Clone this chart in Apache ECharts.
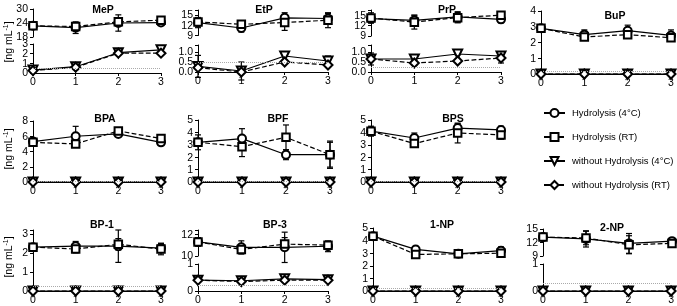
<!DOCTYPE html>
<html>
<head>
<meta charset="utf-8">
<script src="https://cdn.jsdelivr.net/npm/echarts@6/dist/echarts.min.js"></script>
<style>
  html, body { margin: 0; padding: 0; background: #fff; }
  #chart { width: 677px; height: 306px; }
</style>
</head>
<body>
<div id="chart"></div>
<script>
const days = [0, 1, 2, 3];
const seriesNames = ['Hydrolysis (4°C)', 'Hydrolysis (RT)', 'without Hydrolysis (4°C)', 'without Hydrolysis (RT)'];
const zero = [0, 0, 0, 0];

// means, rows: hyd 4°C, hyd RT, w/o 4°C, w/o RT
const mepMean = [[22.8, 22.0, 24.0, 24.2], [22.8, 22.5, 24.5, 25.2], [0.3, 0.65, 2.1, 2.4], [0.25, 0.6, 2.05, 2.05]];
const mepErr = [[1.5, 2.5, 3.5, 1.0], [1.0, 1.5, 1.0, 0.5], [0.2, 0.3, 0.1, 0.2], [0.1, 0.2, 0.1, 0.1]];
const etpMean = [[12.8, 11.2, 14.2, 14.0], [13.0, 12.3, 12.8, 13.5], [0.28, 0.05, 0.8, 0.55], [0.22, 0.0, 0.5, 0.35]];
const etpErr = [[1.5, 1.2, 1.5, 1.5], [1.0, 0.5, 2.3, 2.2], [0.55, 0.45, 0.2, 0.25], [0.05, 0.0, 0.05, 0.05]];
const prpMean = [[14.0, 13.5, 14.5, 13.8], [14.2, 13.0, 14.3, 15.0], [0.65, 0.65, 0.9, 0.8], [0.65, 0.45, 0.55, 0.7]];
const prpErr = [[1.0, 1.5, 1.5, 1.0], [1.5, 2.0, 1.5, 0.5], [0.3, 0.1, 0.05, 0.15], [0.05, 0.1, 0.05, 0.25]];
const bupMean = [[2.9, 2.5, 2.75, 2.45], [2.9, 2.35, 2.5, 2.3], zero, zero];
const bupErr = [[0.2, 0.3, 0.35, 0.35], [0.2, 0.15, 0.1, 0.15], zero, zero];
const bpaMean = [[5.3, 6.0, 6.3, 5.2], [5.2, 5.0, 6.7, 5.7], zero, zero];
const bpaErr = [[0.3, 1.3, 0.3, 0.2], [0.3, 0.3, 0.3, 0.2], zero, zero];
const bpfMean = [[3.2, 3.5, 2.2, 2.2], [3.2, 2.85, 3.6, 2.2], zero, zero];
const bpfErr = [[0.6, 0.8, 0.4, 1.0], [0.3, 0.8, 1.0, 1.1], zero, zero];
const bpsMean = [[4.1, 3.55, 4.35, 4.2], [4.1, 3.1, 3.95, 3.8], zero, zero];
const bpsErr = [[0.4, 0.4, 0.35, 0.3], [0.3, 0.3, 0.8, 0.35], zero, zero];
const bp1Mean = [[2.3, 2.35, 2.35, 2.25], [2.3, 2.2, 2.45, 2.2], zero, zero];
const bp1Err = [[0.1, 0.25, 0.85, 0.25], [0.1, 0.2, 0.3, 0.3], zero, zero];
const bp3Mean = [[11.3, 10.8, 10.8, 10.9], [11.3, 10.6, 11.1, 11.0], [0.4, 0.38, 0.45, 0.42], [0.4, 0.35, 0.4, 0.4]];
const bp3Err = [[0.4, 0.6, 1.4, 0.5], [0.3, 0.4, 0.6, 0.3], [0.03, 0.03, 0.05, 0.03], [0.03, 0.03, 0.03, 0.03]];
const np1Mean = [[4.35, 3.3, 2.95, 3.2], [4.35, 2.9, 2.95, 3.0], zero, zero];
const np1Err = [[0.1, 0.25, 0.3, 0.3], [0.1, 0.1, 0.2, 0.15], zero, zero];
const np2Mean = [[13.2, 12.8, 11.8, 12.3], [13.2, 13.0, 11.5, 11.8], zero, zero];
const np2Err = [[0.4, 1.8, 2.2, 0.3], [0.4, 1.5, 2.0, 0.4], zero, zero];

// limit lines
const loqs = { MeP: 0.5, EtP: 0.5, PrP: 0.25, BuP: 0.2, BPA: 0.1, BPF: 0.06, BPS: 0.06, 'BP-1': 0.25, 'BP-3': 0.2, '1-NP': 0.2, '2-NP': 0.3 };

// layout of the small multiples (pixels)
const panels = [
  { name: 'MeP', mean: mepMean, err: mepErr, left: 33, width: 128, tx: 98, ty: 0,
    upper: { top: 9, height: 28, min: 18, max: 30, interval: 6 },
    lower: { top: 44, height: 29, min: 0, max: 3, interval: 1 } },
  { name: 'EtP', mean: etpMean, err: etpErr, left: 198, width: 130, tx: 259, ty: 0,
    upper: { top: 10, height: 25.5, min: 9, max: 16.5, interval: 3 },
    lower: { top: 45, height: 27, min: 0, max: 1.35, interval: 0.5, dec: 1 } },
  { name: 'PrP', mean: prpMean, err: prpErr, left: 371, width: 130, tx: 442, ty: 0,
    upper: { top: 10, height: 26, min: 9, max: 16.5, interval: 3 },
    lower: { top: 45, height: 27, min: 0, max: 1.35, interval: 0.5, dec: 1 } },
  { name: 'BuP', mean: bupMean, err: bupErr, left: 541, width: 130, tx: 610, ty: 6,
    lower: { top: 11, height: 63, min: 0, max: 4, interval: 1 } },
  { name: 'BPA', mean: bpaMean, err: bpaErr, left: 33, width: 128, tx: 100, ty: 109,
    lower: { top: 121, height: 61, min: 0, max: 8, interval: 2 } },
  { name: 'BPF', mean: bpfMean, err: bpfErr, left: 198, width: 132, tx: 273, ty: 109,
    lower: { top: 120, height: 62, min: 0, max: 5, interval: 1 } },
  { name: 'BPS', mean: bpsMean, err: bpsErr, left: 371, width: 130, tx: 448, ty: 109,
    lower: { top: 120, height: 62, min: 0, max: 5, interval: 1 } },
  { name: 'BP-1', mean: bp1Mean, err: bp1Err, left: 33, width: 128, tx: 97, ty: 215,
    lower: { top: 230, height: 61, min: 0, max: 3.2, interval: 1 } },
  { name: 'BP-3', mean: bp3Mean, err: bp3Err, left: 198, width: 130, tx: 270, ty: 215,
    upper: { top: 230, height: 26, min: 10, max: 12.4, interval: 2 },
    lower: { top: 264, height: 27, min: 0, max: 1, interval: 1 } },
  { name: '1-NP', mean: np1Mean, err: np1Err, left: 373, width: 128, tx: 437, ty: 215,
    lower: { top: 228, height: 63, min: 0, max: 5, interval: 1 } },
  { name: '2-NP', mean: np2Mean, err: np2Err, left: 543, width: 129, tx: 607, ty: 218,
    upper: { top: 229, height: 27, min: 9, max: 15, interval: 3 },
    lower: { top: 264, height: 27, min: 0, max: 1, interval: 1 } }
];

const symbols = ['circle', 'rect', 'triangle', 'diamond'];
const symbolSizes = [8, 7.5, 9, 9];
const rotations = [0, 0, 180, 0];
const lineTypes = ['solid', 'dashed', 'solid', 'dashed'];
const font = 'Liberation Sans, Arial, sans-serif';

const grids = [], xAxes = [], yAxes = [], series = [], titles = [];

function addGrid(p, g, showX) {
  const idx = grids.length;
  grids.push({ left: p.left, top: g.top, width: p.width, height: g.height, containLabel: false });
  xAxes.push({
    type: 'value', gridIndex: idx, min: 0, max: 3, interval: 1, show: showX,
    axisLine: { show: true, onZero: false, lineStyle: { color: '#000', width: 1 } },
    axisTick: { show: true, length: 3, lineStyle: { color: '#000' } },
    axisLabel: { color: '#000', fontSize: 10.5, fontFamily: font, margin: 4 },
    splitLine: { show: false }
  });
  yAxes.push({
    type: 'value', gridIndex: idx, min: g.min, max: g.max, interval: g.interval,
    axisLine: { show: true, onZero: false, lineStyle: { color: '#000', width: 1 } },
    axisTick: { show: true, length: 3, lineStyle: { color: '#000' } },
    // tick labels are packed too tightly for the axis label layout, drawn below instead
    axisLabel: { show: false },
    splitLine: { show: false }
  });
  // y tick labels, placed with the axis scale
  const ticks = [];
  for (let v = g.min; v <= g.max + 1e-9; v += g.interval) ticks.push([0, +v.toFixed(4)]);
  series.push({
    type: 'custom', xAxisIndex: idx, yAxisIndex: idx, silent: true, clip: false, z: 5,
    data: ticks,
    renderItem: (params, api) => {
      const v = api.value(1);
      const c = api.coord([0, v]);
      return { type: 'text', x: c[0] - 5, y: c[1] + 0.5,
        style: { text: g.dec ? v.toFixed(g.dec) : String(v), align: 'right', verticalAlign: 'middle',
          fontSize: 10.5, fontFamily: font, fill: '#000' } };
    }
  });
  return idx;
}

function errorSeries(ax, data) {
  return {
    type: 'custom', xAxisIndex: ax, yAxisIndex: ax, silent: true, clip: false, z: 1,
    data: data,
    renderItem: (params, api) => {
      const x = api.value(0), y = api.value(1), e = api.value(2);
      if (!e) return null;
      const t = api.coord([x, y + e]), b = api.coord([x, y - e]);
      const st = { stroke: '#000', lineWidth: 1.2 };
      return { type: 'group', children: [
        { type: 'line', shape: { x1: t[0], y1: t[1], x2: b[0], y2: b[1] }, style: st },
        { type: 'line', shape: { x1: t[0] - 3, y1: t[1], x2: t[0] + 3, y2: t[1] }, style: st },
        { type: 'line', shape: { x1: b[0] - 3, y1: b[1], x2: b[0] + 3, y2: b[1] }, style: st }
      ] };
    }
  };
}

panels.forEach(p => {
  let up = null;
  if (p.upper) up = addGrid(p, p.upper, false);
  const lo = addGrid(p, p.lower, true);
  titles.push({ text: p.name, left: p.tx, top: p.ty, textAlign: 'center',
    textStyle: { fontSize: 10.5, fontWeight: 'bold', fontFamily: font, color: '#000' } });
  for (let s = 0; s < 4; s++) {
    const ax = (up !== null && s < 2) ? up : lo;
    const pts = days.map((d, i) => [d, p.mean[s][i]]);
    const ser = {
      name: seriesNames[s], type: 'line', xAxisIndex: ax, yAxisIndex: ax,
      data: pts, symbol: symbols[s], symbolSize: symbolSizes[s], symbolRotate: rotations[s],
      showAllSymbol: true, clip: false, z: 3, animation: false,
      itemStyle: { color: '#fff', borderColor: '#000', borderWidth: 2 },
      lineStyle: { color: '#000', width: 1.2, type: lineTypes[s] }
    };
    if (s === 2) {
      ser.markLine = {
        silent: true, symbol: ['none', 'none'], label: { show: false },
        lineStyle: { color: '#aaa', type: 'dotted', width: 1 },
        data: [{ yAxis: loqs[p.name] }]
      };
    }
    series.push(ser);
    series.push(errorSeries(ax, days.map((d, i) => [d, p.mean[s][i], p.err[s][i]])));
  }
});

function yName(cy) {
  return {
    type: 'text', x: 9, y: cy, rotation: Math.PI / 2,
    style: {
      text: '{a|[ng mL}{s|-1}{a|]}',
      align: 'center', verticalAlign: 'middle',
      rich: {
        a: { fontSize: 10.5, fontFamily: font, fill: '#000' },
        s: { fontSize: 7, fontFamily: font, fill: '#000', padding: [0, 0, 6, 0] }
      }
    }
  };
}

const chart = echarts.init(document.getElementById('chart'), null, { renderer: 'canvas' });
chart.setOption({
  animation: false,
  backgroundColor: '#fff',
  title: titles,
  grid: grids,
  xAxis: xAxes,
  yAxis: yAxes,
  series: series,
  legend: {
    data: seriesNames, orient: 'vertical', left: 538, top: 103,
    itemWidth: 21, itemHeight: 10, itemGap: 14, selectedMode: false,
    textStyle: { fontSize: 9.5, fontFamily: font, color: '#000', padding: [0, 0, 0, 2] }
  },
  graphic: [yName(42), yName(149), yName(257)]
});
</script>
</body>
</html>
